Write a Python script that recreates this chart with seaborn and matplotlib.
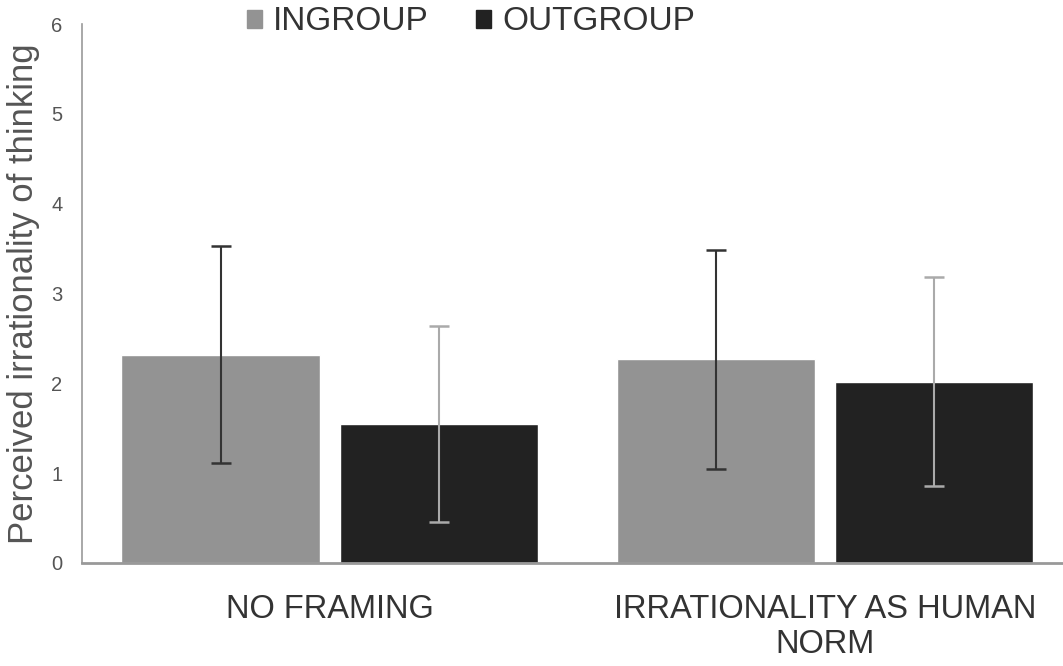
import numpy as np
import pandas as pd
import matplotlib
matplotlib.use("Agg")
import matplotlib.pyplot as plt
import seaborn as sns
from matplotlib.patches import Patch

conditions = ["NO FRAMING", "IRRATIONALITY AS HUMAN\nNORM"]
groups = ["INGROUP", "OUTGROUP"]
ingroup_mean = [2.32, 2.27]
outgroup_mean = [1.55, 2.02]
ingroup_err = [1.21, 1.22]
outgroup_err = [1.09, 1.16]

df = pd.DataFrame({
    "condition": conditions * 2,
    "group": [groups[0]] * 2 + [groups[1]] * 2,
    "mean": ingroup_mean + outgroup_mean,
    "err": ingroup_err + outgroup_err,
})

sns.set_style("white")
plt.rcParams["font.family"] = ["Liberation Sans", "DejaVu Sans"]

bar_colors = {"INGROUP": "#939393", "OUTGROUP": "#222222"}
err_colors = {"INGROUP": "#333333", "OUTGROUP": "#aaaaaa"}

fig = plt.figure(figsize=(10.63, 6.66), dpi=100)
ax = fig.add_axes([0.0771, 0.1547, 0.9229, 0.809])

sns.barplot(data=df, x="condition", y="mean", hue="group", palette=bar_colors,
            width=0.88, gap=0.09, errorbar=None, legend=False, saturation=1, ax=ax)

# error bars placed on the drawn bars
for container, g in zip(ax.containers, groups):
    sub = df[df["group"] == g]
    xs = [p.get_x() + p.get_width() / 2 for p in container.patches]
    ax.errorbar(xs, sub["mean"], yerr=sub["err"], fmt="none",
                ecolor=err_colors[g], elinewidth=1.5, capsize=7, capthick=1.8)

ax.set_ylim(0, 6)
ax.set_xlim(-0.5, 1.48)
ax.set_yticks(range(0, 7))
ax.tick_params(axis="y", labelsize=14.5, labelcolor="#555555", length=0, pad=14)
ax.tick_params(axis="x", labelsize=23.5, labelcolor="#333333", length=0, pad=22)
for lab in ax.get_xticklabels():
    lab.set_linespacing(1.2)
ax.set_xlabel("")
ax.set_ylabel("Perceived irrationality of thinking", fontsize=25, color="#555555", labelpad=8)

sns.despine(ax=ax)
ax.spines["left"].set_color("#999999")
ax.spines["left"].set_linewidth(1.2)
ax.spines["bottom"].set_color("#999999")
ax.spines["bottom"].set_linewidth(2)

handles = [Patch(color=bar_colors[g], label=g) for g in groups]
leg = fig.legend(handles=handles, loc="center", bbox_to_anchor=(471 / 1063, 1 - 22 / 666),
                 ncol=2, frameon=False, handlelength=0.45, handleheight=0.45,
                 handletextpad=0.35, columnspacing=1.4, prop={"size": 24})
for t in leg.get_texts():
    t.set_color("#333333")

fig.savefig("out.png", dpi=100)
